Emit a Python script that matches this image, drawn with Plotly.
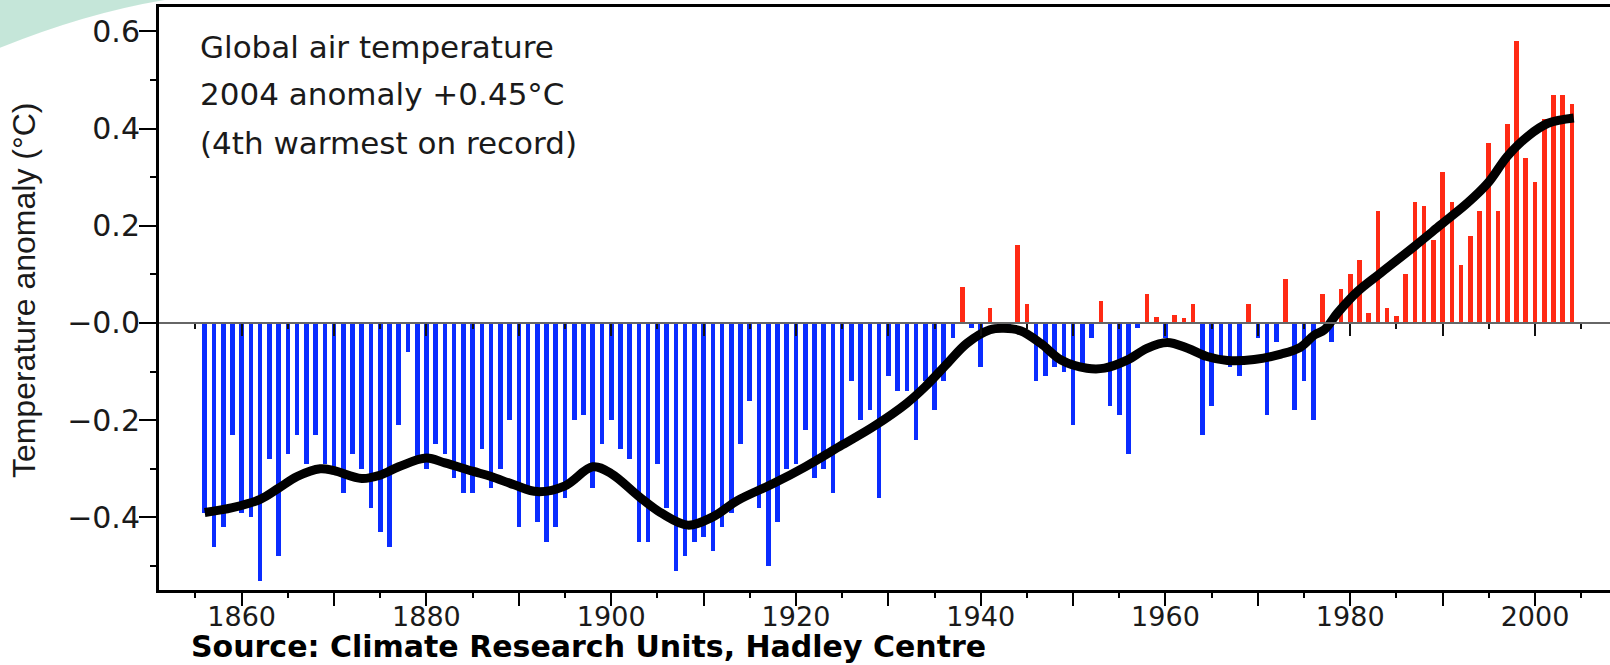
import plotly.graph_objects as go

# ---------------- data ----------------
years = list(range(1856, 2005))
anomaly = [
    -0.39, -0.46, -0.42, -0.23, -0.39, -0.40, -0.53, -0.28, -0.48, -0.27,   # 1856-1865
    -0.23, -0.29, -0.23, -0.29, -0.31, -0.35, -0.27, -0.30, -0.38, -0.43,   # 1866-1875
    -0.46, -0.21, -0.06, -0.28, -0.30, -0.25, -0.27, -0.32, -0.35, -0.35,   # 1876-1885
    -0.26, -0.34, -0.30, -0.20, -0.42, -0.34, -0.41, -0.45, -0.42, -0.36,   # 1886-1895
    -0.20, -0.19, -0.34, -0.25, -0.20, -0.26, -0.28, -0.45, -0.45, -0.29,   # 1896-1905
    -0.38, -0.51, -0.48, -0.45, -0.44, -0.47, -0.42, -0.39, -0.25, -0.16,   # 1906-1915
    -0.38, -0.50, -0.41, -0.30, -0.29, -0.22, -0.32, -0.30, -0.35, -0.25,   # 1916-1925
    -0.12, -0.20, -0.18, -0.36, -0.11, -0.14, -0.14, -0.24, -0.12, -0.18,   # 1926-1935
    -0.12, -0.03, 0.075, -0.01, -0.09, 0.03, -0.01, -0.01, 0.16, 0.04,      # 1936-1945
    -0.12, -0.11, -0.09, -0.10, -0.21, -0.09, -0.03, 0.045, -0.17, -0.19,   # 1946-1955
    -0.27, -0.01, 0.06, 0.013, -0.03, 0.017, 0.01, 0.04, -0.23, -0.17,      # 1956-1965
    -0.07, -0.09, -0.11, 0.04, -0.03, -0.19, -0.04, 0.09, -0.18, -0.12,     # 1966-1975
    -0.20, 0.06, -0.04, 0.07, 0.10, 0.13, 0.02, 0.23, 0.03, 0.015,          # 1976-1985
    0.10, 0.25, 0.24, 0.17, 0.31, 0.25, 0.12, 0.18, 0.23, 0.37,             # 1986-1995
    0.23, 0.41, 0.58, 0.34, 0.29, 0.42, 0.47, 0.47, 0.45,                   # 1996-2004
]

smooth_years = [1856, 1859, 1862, 1864, 1866, 1868.5, 1870, 1873, 1875, 1877,
                1880, 1882, 1885, 1887, 1889.5, 1892, 1895, 1898, 1900, 1903,
                1905.5, 1908.3, 1911, 1913.7, 1917.6, 1921, 1925, 1928.4, 1932, 1934,
                1936.4, 1938.5, 1941, 1942.5, 1944.3, 1946.5, 1948.7, 1951.5, 1953.4, 1955.9,
                1958, 1960.2, 1962.4, 1964.5, 1966.7, 1969.6, 1972.5, 1974.6, 1976.1, 1977.2,
                1978.6, 1980.8, 1983.3, 1986.9, 1989.8, 1992.7, 1994.9, 1997, 1999.2, 2001.4,
                2004.2]
smooth_vals = [-0.39, -0.38, -0.363, -0.34, -0.316, -0.30, -0.304, -0.32, -0.313, -0.296,
               -0.278, -0.288, -0.305, -0.316, -0.333, -0.347, -0.335, -0.296, -0.31, -0.357,
               -0.392, -0.416, -0.399, -0.365, -0.33, -0.296, -0.251, -0.213, -0.165, -0.131,
               -0.083, -0.042, -0.014, -0.011, -0.016, -0.042, -0.076, -0.093, -0.093, -0.076,
               -0.052, -0.04, -0.052, -0.069, -0.077, -0.075, -0.064, -0.05, -0.025, -0.014,
               0.02, 0.065, 0.103, 0.157, 0.202, 0.247, 0.288, 0.343, 0.384, 0.411,
               0.422]

x_tick_vals = [1860, 1870, 1880, 1890, 1900, 1910, 1920, 1930, 1940, 1950,
               1960, 1970, 1980, 1990, 2000]
x_label_vals = [1860, 1880, 1900, 1920, 1940, 1960, 1980, 2000]
x_label_text = ["1860", "1880", "1900", "1920", "1940", "1960", "1980", "2000"]
y_tick_vals = [-0.4, -0.2, 0.0, 0.2, 0.4, 0.6]
y_tick_text = ["\u22120.4", "\u22120.2", "\u22120.0", "0.2", "0.4", "0.6"]

title_lines = ["Global air temperature", "2004 anomaly +0.45\u00b0C", "(4th warmest on record)"]
y_title = "Temperature anomaly (\u00b0C)"
source_text = "Source: Climate Research Units, Hadley Centre"

# ---------------- figure ----------------
X_RANGE = [1851.05, 2008.12]
Y_RANGE = [-0.5495, 0.6503]
BLUE = "#0a2cff"
RED = "#ff2a14"
FONT = "DejaVu Sans, Verdana, sans-serif"
TXT = "#1a1a1a"
CLEAR = "rgba(0,0,0,0)"

bar_colors = [RED if v > 0 else BLUE for v in anomaly]

fig = go.Figure()
# bars on the main axes (frame + outer ticks)
fig.add_trace(go.Bar(
    x=years, y=anomaly, width=0.5,
    marker=dict(color=bar_colors, line=dict(width=0)),
    xaxis="x", yaxis="y", hoverinfo="x+y",
))
# invisible carrier so the zero-line axis (x2) is drawn
fig.add_trace(go.Scatter(
    x=years, y=anomaly, mode="none", xaxis="x2", yaxis="y",
    hoverinfo="skip", showlegend=False,
))
# smoothed curve on the label axes (x3, y2), drawn on top of the bars
fig.add_trace(go.Scatter(
    x=smooth_years, y=smooth_vals, mode="lines",
    line=dict(color="black", width=9, shape="spline", smoothing=1.0),
    xaxis="x3", yaxis="y2", hoverinfo="skip",
))

zero_pos = (0 - Y_RANGE[0]) / (Y_RANGE[1] - Y_RANGE[0])

fig.update_layout(
    width=1610, height=665,
    margin=dict(l=159, r=0, t=7, b=75),
    paper_bgcolor="white", plot_bgcolor="white",
    showlegend=False, bargap=0,
    font=dict(family=FONT, color=TXT),
    # frame + outer ticks (no labels)
    xaxis=dict(
        range=X_RANGE, showgrid=False, zeroline=False,
        showline=True, linecolor="black", linewidth=2.5, mirror=True,
        ticks="outside", ticklen=13, tickwidth=2, tickcolor="black",
        tickmode="array", tickvals=x_tick_vals, showticklabels=False,
        minor=dict(dtick=5, tick0=1855, ticks="outside", ticklen=5,
                   tickwidth=2, tickcolor="black", showgrid=False),
    ),
    # zero line with its ticks
    xaxis2=dict(
        range=X_RANGE, overlaying="x", anchor="free", position=zero_pos,
        side="bottom", showgrid=False, zeroline=False,
        showline=True, linecolor="#666666", linewidth=2,
        ticks="outside", ticklen=12, tickwidth=2, tickcolor="#111111",
        tickmode="array", tickvals=x_tick_vals, showticklabels=False,
        minor=dict(dtick=5, tick0=1855, ticks="outside", ticklen=5,
                   tickwidth=2, tickcolor="#111111", showgrid=False),
    ),
    # year labels
    xaxis3=dict(
        range=X_RANGE, overlaying="x", anchor="y", side="bottom",
        showgrid=False, zeroline=False, showline=False,
        ticks="outside", ticklen=3, tickcolor=CLEAR,
        tickmode="array", tickvals=x_label_vals, ticktext=x_label_text,
        tickfont=dict(family=FONT, size=27, color=TXT),
    ),
    yaxis=dict(
        range=Y_RANGE, showgrid=False, zeroline=False,
        showline=True, linecolor="black", linewidth=2.5,
        ticks="outside", ticklen=17, tickwidth=2, tickcolor="black",
        tickmode="array", tickvals=y_tick_vals, showticklabels=False,
        minor=dict(dtick=0.1, tick0=-0.5, ticks="outside", ticklen=6,
                   tickwidth=2, tickcolor="black", showgrid=False),
    ),
    # value labels
    yaxis2=dict(
        range=Y_RANGE, overlaying="y", anchor="x", side="left",
        showgrid=False, zeroline=False, showline=False,
        ticks="outside", ticklen=12, tickcolor=CLEAR,
        tickmode="array", tickvals=y_tick_vals, ticktext=y_tick_text,
        tickfont=dict(family=FONT, size=30, color=TXT),
    ),
)

# faint logo watermark in the upper-left corner of the slide
fig.add_shape(
    type="path", xref="paper", yref="paper", layer="below",
    path="M -0.1096,1.0125 L 0.005,1.0125 Q -0.05,0.99 -0.1096,0.93 Z",
    fillcolor="rgba(150,210,185,0.55)", line=dict(width=0),
)

line_y = [0.932, 0.850, 0.767]
for txt, yy in zip(title_lines, line_y):
    fig.add_annotation(
        text=txt, xref="paper", yref="paper", x=0.0269, y=yy,
        xanchor="left", yanchor="middle", showarrow=False,
        font=dict(family=FONT, size=31, color=TXT),
    )

fig.add_annotation(
    text=y_title, xref="paper", yref="paper", x=-0.0935, y=0.515,
    xanchor="center", yanchor="middle", showarrow=False, textangle=-90,
    font=dict(family="Liberation Sans, Arial, sans-serif", size=32, color=TXT),
)

fig.add_annotation(
    text="<b>" + source_text + "</b>", xref="paper", yref="paper",
    x=0.0214, y=-0.097, xanchor="left", yanchor="middle", showarrow=False,
    font=dict(family=FONT, size=30, color="black"), borderpad=0,
)

fig.write_html("out.html")
